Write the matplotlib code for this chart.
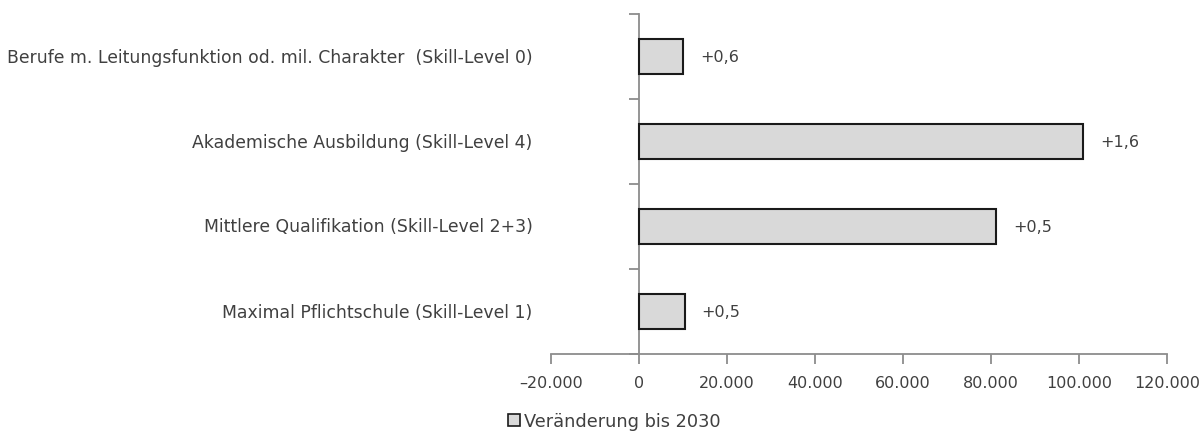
import matplotlib
matplotlib.use("Agg")
import matplotlib.pyplot as plt
from matplotlib.patches import Patch
from matplotlib.ticker import FuncFormatter

categories = [
    "Maximal Pflichtschule (Skill-Level 1)",
    "Mittlere Qualifikation (Skill-Level 2+3)",
    "Akademische Ausbildung (Skill-Level 4)",
    "Berufe m. Leitungsfunktion od. mil. Charakter  (Skill-Level 0)",
]
values = [10400, 81200, 101000, 10100]
labels = ["+0,5", "+0,5", "+1,6", "+0,6"]
xticks = [-20000, 0, 20000, 40000, 60000, 80000, 100000, 120000]
series_name = "Veränderung bis 2030"

plt.rcParams['font.family'] = ['DejaVu Sans']
txt = '#404040'
axc = '#8c8c8c'

fig = plt.figure(figsize=(12.03, 4.35), dpi=100)
ax = fig.add_axes([551/1203, 1-355/435, (1167-551)/1203, (355-15)/435])

ypos = list(range(len(categories)))
ax.barh(ypos, values, height=0.41, color='#d9d9d9', edgecolor='#1a1a1a', linewidth=1.5, zorder=3)
for y, v, l in zip(ypos, values, labels):
    ax.annotate(l, (v, y), xytext=(12, 0), textcoords='offset points', va='center', ha='left',
                fontsize=11.5, color=txt)

ax.set_xlim(-20000, 120000)
ax.set_ylim(-0.5, 3.5)
ax.set_xticks(xticks)
ax.xaxis.set_major_formatter(FuncFormatter(
    lambda v, p: ('\u2013' if v < 0 else '') + f"{abs(int(v)):,}".replace(',', '.')))
ax.set_yticks([-0.5, 0.5, 1.5, 2.5, 3.5])
ax.set_yticklabels([])
for s in ['top', 'right']:
    ax.spines[s].set_visible(False)
ax.spines['left'].set_position(('data', 0))
ax.spines['left'].set_color(axc)
ax.spines['bottom'].set_color(axc)
ax.spines['left'].set_linewidth(1.3)
ax.spines['bottom'].set_linewidth(1.3)
ax.tick_params(axis='x', direction='out', length=7, width=1.3, color=axc, labelsize=11.5, labelcolor=txt, pad=8)
ax.tick_params(axis='y', direction='out', length=7, width=1.3, color=axc)

for y, c in zip(ypos, categories):
    ax.text(-0.03, y, c, transform=ax.get_yaxis_transform(), ha='right', va='center',
            fontsize=12.4, color=txt)

handle = Patch(facecolor='#d9d9d9', edgecolor='#1a1a1a', linewidth=1.2)
fig.legend([handle], [series_name], loc='center', bbox_to_anchor=(614/1203, 1-422/435),
           frameon=False, fontsize=12.8, labelcolor=txt, handlelength=0.7, handleheight=0.7,
           handletextpad=0.2)

fig.savefig('out.png', dpi=100)
